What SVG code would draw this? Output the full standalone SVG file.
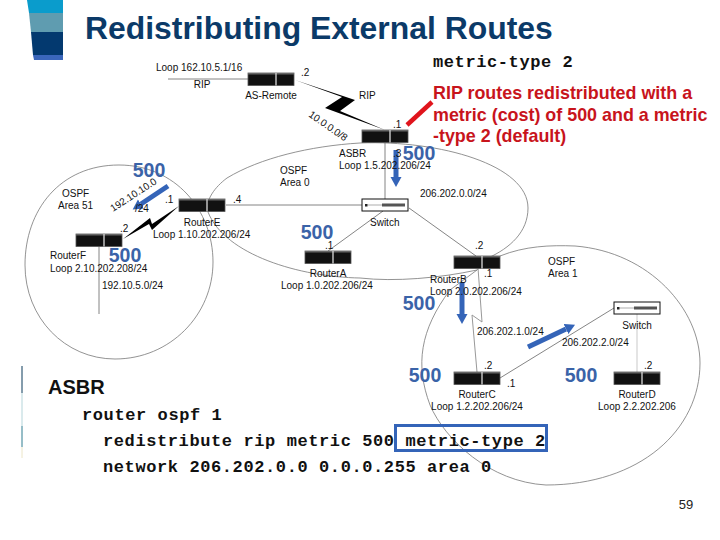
<svg xmlns="http://www.w3.org/2000/svg" width="720" height="540" viewBox="0 0 720 540">
<style>
text{font-family:"Liberation Sans",Arial,sans-serif}
.l{font-size:10px;fill:#111}
.m{text-anchor:middle}
.b{font-size:19.5px;font-weight:bold;fill:#3a63a8;text-anchor:middle}
.c{font-family:"Liberation Mono",monospace;font-size:17px;font-weight:bold;fill:#111;letter-spacing:.6px}
.r{font-size:17.9px;font-weight:bold;fill:#c8141c}
.a{fill:none;stroke:#777;stroke-width:.8}
.w{fill:none;stroke:#666;stroke-width:.8}
.hi{stroke:#3464b8;stroke-width:5}
</style>
<defs>
<g id="rt"><rect width="46" height="12.5" fill="#111" stroke="#555" stroke-width=".8"/><rect x="0" y="0" width="46" height="1.5" fill="#666"/><line x1="28" y1="0" x2="28" y2="12.5" stroke="#ccc" stroke-width="1.4"/></g>
<g id="sw"><rect width="46" height="12" fill="#fff" stroke="#111" stroke-width="1"/><rect x="3" y="5" width="2.5" height="2.5" fill="#222"/><line x1="5" y1="6" x2="20" y2="6" stroke="#777" stroke-width=".6"/><rect x="20" y="4.5" width="23" height="3" fill="#555"/></g>
<marker id="ah" markerWidth="3" markerHeight="3" refX="0" refY="1.1" orient="auto"><path d="M0 0L2 1.1L0 2.2z" fill="#3464b8"/></marker>
</defs>
<rect width="720" height="540" fill="#fff"/>
<path d="M27 0H63V13H29z" fill="#0a9ccc"/><path d="M29 13H63V32H31z" fill="#5f9cb0"/><path d="M31 32H63V55H33z" fill="#03396f"/><path d="M33 55H63V60H34z" fill="#3a66bb"/>
<line x1="22" y1="366" x2="22" y2="393" stroke="#0b3a5a"/><line x1="22" y1="393" x2="22" y2="426" stroke="#b5d5da"/><line x1="22" y1="426" x2="22" y2="447" stroke="#2e7d90"/><line x1="22" y1="447" x2="22" y2="458" stroke="#ece6c8"/>
<text x="85" y="39" font-size="31.9" font-weight="bold" fill="#0b3a68">Redistributing External Routes</text>
<text x="433" y="67" class="c">metric-type 2</text>
<g id="connectors">
<path class="a" d="M119 165C60 165 25 210 25 265C25 318 65 359 115 359C170 359 213 315 213 262C213 210 175 165 119 165Z"/>
<path class="a" d="M227 178C260 158 310 146 360 143C440 140 528 165 528 208C528 232 510 248 488 258L477 270C440 278 395 282 360 278C300 277 225 255 208 212C205 200 215 187 227 178Z"/>
<path class="a" d="M500 256C525 246 550 245 575 246C650 252 700 310 700 363C700 430 640 485 546 485C490 482 445 440 430 405C415 365 420 330 450 290L477 270"/>
<line class="w" x1="168" y1="79" x2="248" y2="79"/>
<path fill="#000" d="M295 80L355 100L340 111L385 130L325 108L342 97Z"/>
<line class="w" x1="385" y1="143" x2="385" y2="199"/>
<line class="w" x1="226" y1="205" x2="362" y2="205"/>
<line class="w" x1="328" y1="251" x2="383" y2="211"/>
<line class="w" x1="409" y1="208" x2="476" y2="256"/>
<path fill="#000" d="M123 239L150 218L152 224L179 206L152 230L149 224Z"/>
<line class="w" x1="99" y1="246" x2="99" y2="314"/>
<path fill="none" stroke="#999" stroke-width="1" d="M478 268L482 322L472 315L477 372"/>
<line class="w" x1="500" y1="378" x2="614" y2="308"/>
<line stroke="#bbb" stroke-width=".8" x1="637" y1="314" x2="637" y2="372"/>
<line x1="407" y1="125" x2="432" y2="102" stroke="#e0141c" stroke-width="4.5"/>
<line class="hi" x1="396" y1="150" x2="396" y2="177" marker-end="url(#ah)"/>
<line class="hi" x1="168" y1="186" x2="141" y2="204" marker-end="url(#ah)"/>
<line class="hi" x1="462" y1="282" x2="462" y2="314" marker-end="url(#ah)"/>
<line class="hi" x1="528" y1="347" x2="566" y2="329" marker-end="url(#ah)"/>
</g>
<g id="as-remote"><use href="#rt" x="248" y="73"/><text class="l m" x="271" y="99">AS-Remote</text><text class="l" x="301" y="76">.2</text><text class="l" x="156" y="71">Loop 162.10.5.1/16</text><text class="l m" x="202" y="88">RIP</text></g>
<g id="rip-link"><text class="l" x="359" y="99">RIP</text><text class="l" transform="translate(308 116) rotate(35)">10.0.0.0/8</text></g>
<g id="asbr"><use href="#rt" x="362" y="130"/><text class="l" x="393" y="128">.1</text><text class="l" x="339" y="157">ASBR</text><text class="l" x="339" y="169">Loop 1.5.202.206/24</text><text class="l" x="393" y="157">.3</text></g>
<g id="switch-0"><use href="#sw" x="362" y="199"/><text class="l" x="370" y="226">Switch</text><text class="l" x="420" y="197">206.202.0.0/24</text></g>
<g id="area-0"><text class="l" x="280" y="174">OSPF</text><text class="l" x="280" y="186">Area 0</text></g>
<g id="area-51"><text class="l" x="62" y="197">OSPF</text><text class="l" x="58" y="209">Area 51</text><text class="l" transform="translate(113 212) rotate(-33)">192.10.10.0</text><text class="l" x="135" y="212">/24</text></g>
<g id="router-e"><use href="#rt" x="179" y="199"/><text class="l" x="165" y="203">.1</text><text class="l" x="233" y="203">.4</text><text class="l m" x="202" y="226">RouterE</text><text class="l" x="153" y="238">Loop 1.10.202.206/24</text></g>
<g id="router-f"><use href="#rt" x="76" y="234"/><text class="l" x="120" y="232">.2</text><text class="l" x="50" y="259">RouterF</text><text class="l" x="50" y="272">Loop 2.10.202.208/24</text><text class="l" x="102" y="289">192.10.5.0/24</text></g>
<g id="router-a"><use href="#rt" x="305" y="251"/><text class="l" x="325" y="249">.1</text><text class="l m" x="328" y="277">RouterA</text><text class="l" x="281" y="289">Loop 1.0.202.206/24</text></g>
<g id="router-b"><use href="#rt" x="454" y="256"/><text class="l" x="475" y="249">.2</text><text class="l" x="484" y="277">.1</text><text class="l" x="430" y="283">RouterB</text><text class="l" x="430" y="295">Loop 2.0.202.206/24</text></g>
<g id="area-1"><text class="l" x="548" y="265">OSPF</text><text class="l" x="548" y="277">Area 1</text></g>
<g id="router-c"><use href="#rt" x="454" y="372"/><text class="l" x="484" y="369">.2</text><text class="l" x="507" y="387">.1</text><text class="l m" x="477" y="398">RouterC</text><text class="l m" x="477" y="410">Loop 1.2.202.206/24</text><text class="l" x="477" y="335">206.202.1.0/24</text></g>
<g id="switch-1"><use href="#sw" x="614" y="302"/><text class="l m" x="637" y="329">Switch</text><text class="l" x="562" y="346">206.202.2.0/24</text></g>
<g id="router-d"><use href="#rt" x="614" y="372"/><text class="l" x="644" y="369">.2</text><text class="l m" x="637" y="398">RouterD</text><text class="l m" x="637" y="410">Loop 2.2.202.206</text></g>
<g id="costs"><text class="b" x="149" y="177">500</text><text class="b" x="419" y="160">500</text><text class="b" x="317" y="239">500</text><text class="b" x="125" y="262">500</text><text class="b" x="419" y="310">500</text><text class="b" x="425" y="382">500</text><text class="b" x="581" y="382">500</text></g>
<g id="note"><text class="r" x="433" y="99">RIP routes redistributed with a</text><text class="r" x="433" y="120.5">metric (cost) of 500 and a metric</text><text class="r" x="433" y="141.5">-type 2 (default)</text></g>
<g id="config"><text x="48" y="394" font-size="20" font-weight="bold" fill="#111">ASBR</text>
<text class="c" x="82" y="420">router ospf 1</text><text class="c" x="103" y="446">redistribute rip metric 500 metric-type 2</text><text class="c" x="103" y="472">network 206.202.0.0 0.0.0.255 area 0</text>
<rect x="395.5" y="425.5" width="151" height="25" fill="none" stroke="#3464b8" stroke-width="3"/></g>
<text x="686" y="509" font-size="13" text-anchor="middle" fill="#222">59</text>
</svg>
